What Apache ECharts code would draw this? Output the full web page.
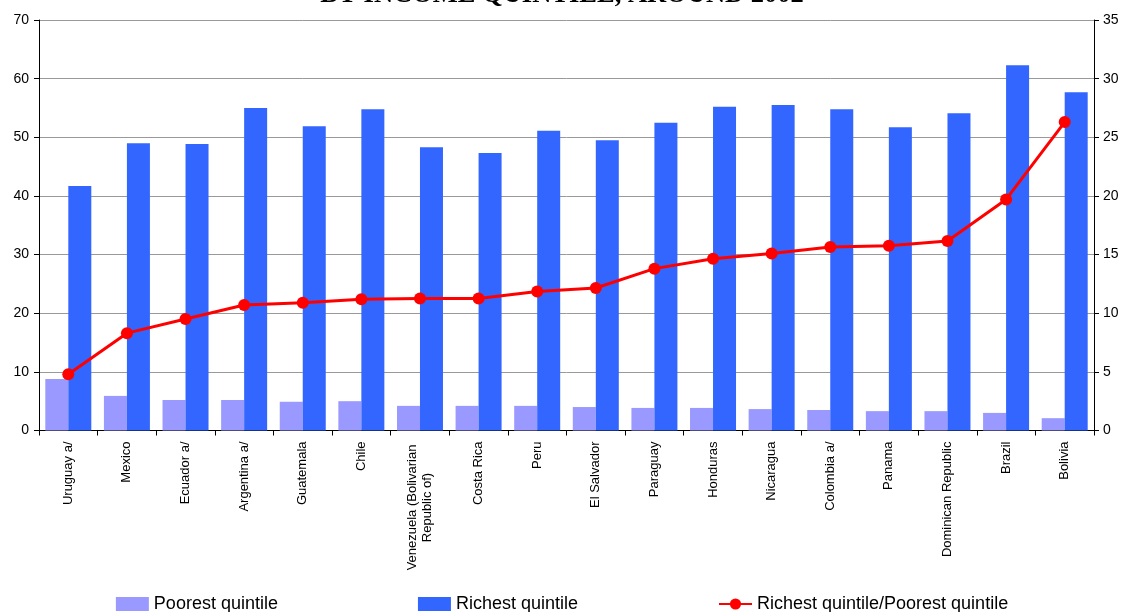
<!DOCTYPE html>
<html>
<head>
<meta charset="utf-8">
<script src="https://cdn.jsdelivr.net/npm/echarts@6/dist/echarts.min.js"></script>
<style>
html,body{margin:0;padding:0;background:#fff;}
#chart{width:1124px;height:612px;}
</style>
</head>
<body>
<div id="chart"></div>
<script>
const categories = ["Uruguay a/","Mexico","Ecuador a/","Argentina a/","Guatemala","Chile","Venezuela (Bolivarian\nRepublic of)","Costa Rica","Peru","El Salvador","Paraguay","Honduras","Nicaragua","Colombia a/","Panama","Dominican Republic","Brazil","Bolivia"];
const poorest = [8.8,5.9,5.2,5.2,4.9,5.0,4.2,4.2,4.2,4.0,3.85,3.85,3.65,3.5,3.3,3.3,3.0,2.1];
const richest = [41.7,49.0,48.85,55.0,51.9,54.8,48.3,47.3,51.1,49.5,52.5,55.2,55.5,54.8,51.7,54.1,62.3,57.7];
const ratio = [4.8,8.3,9.5,10.7,10.9,11.2,11.25,11.25,11.85,12.15,13.8,14.65,15.1,15.65,15.75,16.15,19.7,26.3];
const titleText = "BY INCOME QUINTILE, AROUND 2002";
const seriesNames = ["Poorest quintile","Richest quintile","Richest quintile/Poorest quintile"];

const chart = echarts.init(document.getElementById('chart'), null, {renderer:'canvas'});
const font = 'Liberation Sans, Arial, sans-serif';
chart.setOption({
  animation:false,
  backgroundColor:'#fff',
  title:{
    text:titleText, left:'center', top:-23,
    textStyle:{fontFamily:'Liberation Serif, Times New Roman, serif', fontWeight:'bold', fontSize:26.5, color:'#000'}
  },
  legend:{
    bottom:-6, left:'center', itemGap:140, itemWidth:33, itemHeight:14,
    textStyle:{fontFamily:font, fontSize:18, color:'#000'},
    data:[
      {name:seriesNames[0], icon:'rect'},
      {name:seriesNames[1], icon:'rect'},
      {name:seriesNames[2]}
    ]
  },
  grid:{left:39, right:30, top:20, bottom:181.5, containLabel:false},
  xAxis:{
    type:'category', data:categories,
    axisLine:{lineStyle:{color:'#000', width:1}},
    axisTick:{show:true, alignWithLabel:false, length:5, lineStyle:{color:'#000'}},
    axisLabel:{rotate:90, interval:0, color:'#000', margin:11, fontFamily:font, fontSize:13, lineHeight:15,
      formatter:function(v){
        if (v.indexOf('\n') < 0) return v;
        return v.split('\n').map(function(s){return '{c|'+s+'}';}).join('\n');
      },
      rich:{c:{fontFamily:font, fontSize:13, color:'#000', lineHeight:15, width:132, align:'center'}}
    }
  },
  yAxis:[
    {type:'value', min:0, max:70, interval:10,
     axisLine:{show:true, lineStyle:{color:'#000'}},
     axisTick:{show:true, length:5, lineStyle:{color:'#000'}},
     axisLabel:{fontFamily:font, fontSize:14, color:'#000', margin:10},
     splitLine:{show:true, lineStyle:{color:'#999', width:1}}},
    {type:'value', min:0, max:35, interval:5,
     axisLine:{show:true, lineStyle:{color:'#000'}},
     axisTick:{show:true, length:5, lineStyle:{color:'#000'}},
     axisLabel:{fontFamily:font, fontSize:14, color:'#000', margin:9},
     splitLine:{show:false}}
  ],
  series:[
    {name:seriesNames[0], type:'bar', data:poorest, barWidth:23, barGap:'0%', itemStyle:{color:'#9999FF'}, yAxisIndex:0},
    {name:seriesNames[1], type:'bar', data:richest, barWidth:23, barGap:'0%', itemStyle:{color:'#3366FF'}, yAxisIndex:0},
    {name:seriesNames[2], type:'line', data:ratio, yAxisIndex:1, symbol:'circle', symbolSize:12,
     lineStyle:{color:'#FF0000', width:3}, itemStyle:{color:'#FF0000'}, z:5}
  ]
});
</script>
</body>
</html>
